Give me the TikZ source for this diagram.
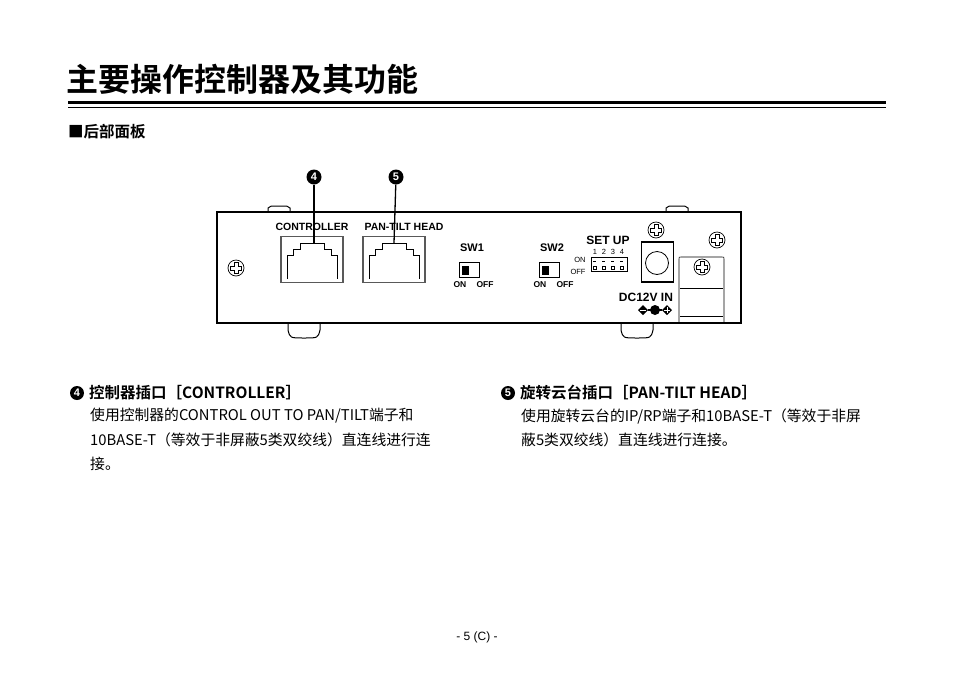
\documentclass[tikz,border=0pt]{standalone}
\usepackage{fontspec}
\setmainfont{Liberation Sans}
\newfontfamily\cjk{Noto Sans CJK SC}
\newfontfamily\cjkb{Noto Sans CJK SC Bold}
\begin{document}
\begin{tikzpicture}[x=1pt,y=-1pt,
  lbl/.style={font=\bfseries\fontsize{10.5}{11}\selectfont,inner sep=0},
  tiny/.style={font=\fontsize{7.5}{8}\selectfont,inner sep=0},
  num/.style={circle,fill=black,text=white,inner sep=0,minimum size=15pt,font=\bfseries\fontsize{11}{11}\selectfont},
  bodyt/.style={anchor=west,inner sep=0,font=\cjk\fontsize{14.8}{15}\selectfont},
  head/.style={anchor=west,inner sep=0,font=\cjkb\fontsize{15.5}{16}\selectfont},
  screw/.style={draw,line width=0.8pt}]
\useasboundingbox (0,0) rectangle (954,673);
% title
\node[anchor=west,inner sep=0,font=\cjkb\fontsize{32}{33}\selectfont] (title) at (66,79) {主要操作控制器及其功能};
\draw[line width=3pt] (68,102) -- (886,102);
\draw[line width=0.8pt] (68,107.5) -- (886,107.5);
\node[head] (sub) at (68,132) {■后部面板};
% device
\draw[line width=1pt] (268,212) -- (268,208) .. controls (270,206) .. (279,206) .. controls (288,206) .. (290,208) -- (290,212);
\draw[line width=1pt] (666,212) -- (666,208) .. controls (668,206) .. (677,206) .. controls (686,206) .. (688,208) -- (688,212);
\draw[line width=1pt] (288,323) -- (288,330) .. controls (290,338) .. (304,338) .. controls (318,338) .. (320,330) -- (320,323);
\draw[line width=1pt] (621,323) -- (621,330) .. controls (623,338) .. (637,338) .. controls (651,338) .. (653,330) -- (653,323);
\node[draw,line width=1.2pt,minimum width=524pt,minimum height=111pt,inner sep=0] (box) at (479,267.5) {};
% ports
\foreach \n/\x in {p1/312,p2/394}{
  \node[draw,line width=1.4pt,gray!70!black,minimum width=62pt,minimum height=46pt,inner sep=0] (\n) at (\x,259.5) {};
  \draw[line width=0.6pt] (\x-25,279) -- (\x-25,255) -- (\x-19,255) -- (\x-19,249) -- (\x-12,249) -- (\x-12,243) -- (\x+12,243) -- (\x+12,249) -- (\x+19,249) -- (\x+19,255) -- (\x+25,255) -- (\x+25,279);
}
\node[lbl] (lc) at (312,227) {CONTROLLER};
\node[lbl] (lp) at (404,227) {PAN-TILT HEAD};
\node[num] (n4) at (314,177) {4};
\node[num] (n5) at (396,177) {5};
\coordinate (t4) at (314,243);
\coordinate (t5) at (394,243);
\draw[line width=1.3pt] (n4) -- (t4);
\draw[line width=1.3pt] (n5) -- (t5);
% switches
\foreach \n/\x/\t in {s1/472/SW1,s2/552/SW2}{
  \node[lbl,font=\bfseries\fontsize{11}{11}\selectfont] (\n l) at (\x,248) {\t};
  \node[draw,line width=0.8pt,minimum width=20pt,minimum height=15pt,inner sep=0] (\n) at (\x-3,270) {};
  \fill (\x-10,265.5) rectangle (\x-3,274.5);
  \node[lbl,font=\bfseries\fontsize{8.5}{9}\selectfont] (\n a) at (\x-12,285) {ON};
  \node[lbl,font=\bfseries\fontsize{8.5}{9}\selectfont] (\n b) at (\x+13,285) {OFF};
}
% setup
\node[lbl,font=\bfseries\fontsize{12}{12}\selectfont] (su) at (608,240) {SET UP};
\node[tiny] (d1) at (595,252) {1};
\node[tiny] (d2) at (604,252) {2};
\node[tiny] (d3) at (613,252) {3};
\node[tiny] (d4) at (622,252) {4};
\node[draw,line width=0.6pt,minimum width=36pt,minimum height=14pt,inner sep=0] (dip) at (609,264.5) {};
\draw[dash pattern=on 3pt off 6pt,line width=0.6pt] (593,261) -- (625,261);
\foreach \x in {595,604,613,622} \draw[line width=0.5pt] (\x-1.5,266) rectangle (\x+1.5,269);
\node[tiny,font=\fontsize{7.5}{8}\selectfont] (on) at (580,260) {ON};
\node[tiny,font=\fontsize{7.5}{8}\selectfont] (off) at (578,272) {OFF};
% screws
\foreach \n/\x/\y in {sa/656/230,sb/717/240,sc/236/268,sd/702/267}{
  \node[draw,circle,line width=0.7pt,minimum size=16pt,inner sep=0] (\n) at (\x,\y) {};
  \draw[line width=0.6pt] (\x-2,\y-5.5) -- (\x+2,\y-5.5) -- (\x+2,\y-2) -- (\x+5.5,\y-2) -- (\x+5.5,\y+2) -- (\x+2,\y+2) -- (\x+2,\y+5.5) -- (\x-2,\y+5.5) -- (\x-2,\y+2) -- (\x-5.5,\y+2) -- (\x-5.5,\y-2) -- (\x-2,\y-2) -- cycle;
}
% DC jack
\node[draw,line width=1.2pt,minimum width=32pt,minimum height=40pt,inner sep=0] (dc) at (657.5,262) {};
\node[draw,circle,line width=0.8pt,minimum size=23pt,inner sep=0] (dcc) at (657,263) {};
\node[lbl,font=\bfseries\fontsize{12}{12}\selectfont] (dcl) at (646,297) {DC12V IN};
\fill (638,310) -- (643,305) -- (648,310) -- (643,315) -- cycle;
\fill (662,310) -- (667,305) -- (672,310) -- (667,315) -- cycle;
\draw[line width=1.5pt] (648,310) -- (662,310);
\fill (655,310) circle (5pt);
\draw[white,line width=0.5pt] (640,310) -- (646,310);
\draw[white,line width=0.5pt] (664,310) -- (670,310) (667,307) -- (667,313);
\draw[line width=0.6pt] (679,322) -- (679,259) .. controls (679,257) .. (681,257) -- (722,257) .. controls (724,257) .. (724,259) -- (724,322);
\draw[line width=0.6pt] (680,288) -- (723,288);
\draw[line width=0.6pt] (680,316) -- (723,316);
% descriptions
\node[num,minimum size=14pt] (c4) at (77,393) {4};
\node[head] (h4) at (89,393) {控制器插口［CONTROLLER］};
\node[bodyt] (b41) at (90,416) {使用控制器的CONTROL OUT TO PAN/TILT端子和};
\node[bodyt] (b42) at (90,440) {10BASE-T（等效于非屏蔽5类双绞线）直连线进行连};
\node[bodyt] (b43) at (90,464) {接。};
\node[num,minimum size=14pt] (c5) at (508,393) {5};
\node[head] (h5) at (520,393) {旋转云台插口［PAN-TILT HEAD］};
\node[bodyt] (b51) at (521,416) {使用旋转云台的IP/RP端子和10BASE-T（等效于非屏};
\node[bodyt] (b52) at (521,440) {蔽5类双绞线）直连线进行连接。};
\node[inner sep=0,font=\fontsize{12}{12}\selectfont] (pg) at (477,637) {- 5 (C) -};
\end{tikzpicture}
\end{document}
